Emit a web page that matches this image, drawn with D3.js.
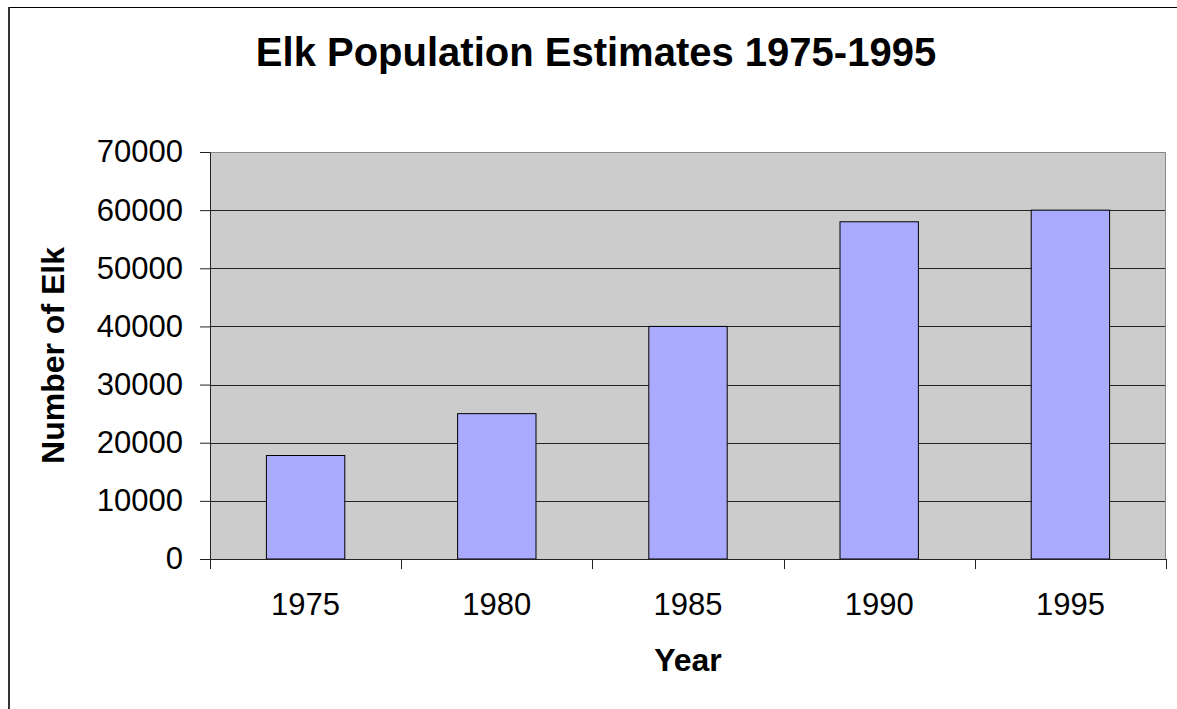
<!DOCTYPE html>
<html>
<head>
<meta charset="utf-8">
<script src="https://cdn.jsdelivr.net/npm/d3@7/dist/d3.min.js"></script>
<style>
  html, body { margin: 0; padding: 0; background: #fff; }
  svg { display: block; font-family: "Liberation Sans", Arial, sans-serif; }
</style>
</head>
<body>
<svg id="chart" width="1177" height="709"></svg>
<script>
// Elk population estimates, one bar per survey year
const years = ["1975", "1980", "1985", "1990", "1995"];
const elkCounts = [17800, 25000, 40000, 58000, 60000];
const yTicks = [0, 10000, 20000, 30000, 40000, 50000, 60000, 70000];

const titleText = "Elk Population Estimates 1975-1995";
const xTitle = "Year";
const yTitle = "Number of Elk";

const svg = d3.select("#chart");
const W = 1177, H = 709;
const plot = { left: 210, right: 1166, top: 152, bottom: 559 };

// outer chart frame
svg.append("rect")
  .attr("x", 8.5).attr("y", 7.5)
  .attr("width", 1300).attr("height", 900)
  .attr("fill", "#fff").attr("stroke", "#000").attr("stroke-width", 1);
svg.append("line")
  .attr("x1", 9).attr("x2", 9).attr("y1", 7).attr("y2", H)
  .attr("stroke", "#333").attr("stroke-width", 2);

const x = d3.scaleBand()
  .domain(years)
  .range([plot.left, plot.right])
  .paddingInner(0.59)
  .paddingOuter(0.295);

const y = d3.scaleLinear()
  .domain([0, 70000])
  .range([plot.bottom, plot.top]);

// plot background
svg.append("rect")
  .attr("x", plot.left).attr("y", plot.top)
  .attr("width", plot.right - plot.left).attr("height", plot.bottom - plot.top)
  .attr("fill", "#cccccc");

// horizontal gridlines
svg.append("g")
  .selectAll("line")
  .data(yTicks.filter(v => v > 0 && v < 70000))
  .join("line")
  .attr("x1", plot.left).attr("x2", plot.right)
  .attr("y1", d => Math.round(y(d)) + 0.5).attr("y2", d => Math.round(y(d)) + 0.5)
  .attr("stroke", "#222").attr("stroke-width", 1);

// top and right plot border
svg.append("path")
  .attr("d", `M${plot.left},${plot.top + 0.5}H${plot.right - 0.5}V${plot.bottom}`)
  .attr("fill", "none").attr("stroke", "#888").attr("stroke-width", 1);

// bars
svg.append("g")
  .selectAll("rect")
  .data(years.map((yr, i) => ({ yr, v: elkCounts[i] })))
  .join("rect")
  .attr("x", d => x(d.yr))
  .attr("y", d => y(d.v))
  .attr("width", x.bandwidth())
  .attr("height", d => y(0) - y(d.v))
  .attr("fill", "#aaaaff")
  .attr("stroke", "#000").attr("stroke-width", 1);

// y axis
const yAxis = svg.append("g")
  .attr("transform", `translate(${plot.left},0)`)
  .call(d3.axisLeft(y).tickValues(yTicks).tickFormat(d3.format("d")).tickSize(10).tickPadding(17));
yAxis.select(".domain").attr("stroke", "#222");
yAxis.selectAll(".tick line").attr("stroke", "#222");
yAxis.selectAll("text")
  .attr("font-size", 31).attr("fill", "#000")
  .attr("font-family", "'Liberation Sans', Arial, sans-serif");

// x axis with ticks on category boundaries
const xAxisG = svg.append("g")
  .attr("transform", `translate(0,${plot.bottom})`);
xAxisG.append("line")
  .attr("x1", plot.left).attr("x2", plot.right)
  .attr("y1", 0.5).attr("y2", 0.5)
  .attr("stroke", "#222");
const boundaries = d3.range(years.length + 1).map(i => plot.left + i * x.step());
xAxisG.selectAll(".bt")
  .data(boundaries)
  .join("line")
  .attr("class", "bt")
  .attr("x1", d => Math.round(d) + 0.5).attr("x2", d => Math.round(d) + 0.5)
  .attr("y1", 0).attr("y2", 10)
  .attr("stroke", "#222");
xAxisG.selectAll(".xl")
  .data(years)
  .join("text")
  .attr("class", "xl")
  .attr("x", d => x(d) + x.bandwidth() / 2)
  .attr("y", 56)
  .attr("text-anchor", "middle")
  .attr("font-size", 31)
  .attr("fill", "#000")
  .text(d => d);

// titles
svg.append("text")
  .attr("x", 596).attr("y", 66)
  .attr("text-anchor", "middle")
  .attr("font-size", 40).attr("font-weight", "bold")
  .text(titleText);

svg.append("text")
  .attr("x", (plot.left + plot.right) / 2).attr("y", 671)
  .attr("text-anchor", "middle")
  .attr("font-size", 32).attr("font-weight", "bold")
  .text(xTitle);

svg.append("text")
  .attr("transform", `translate(64,${(plot.top + plot.bottom) / 2}) rotate(-90)`)
  .attr("text-anchor", "middle")
  .attr("font-size", 32).attr("font-weight", "bold")
  .text(yTitle);
</script>
</body>
</html>
